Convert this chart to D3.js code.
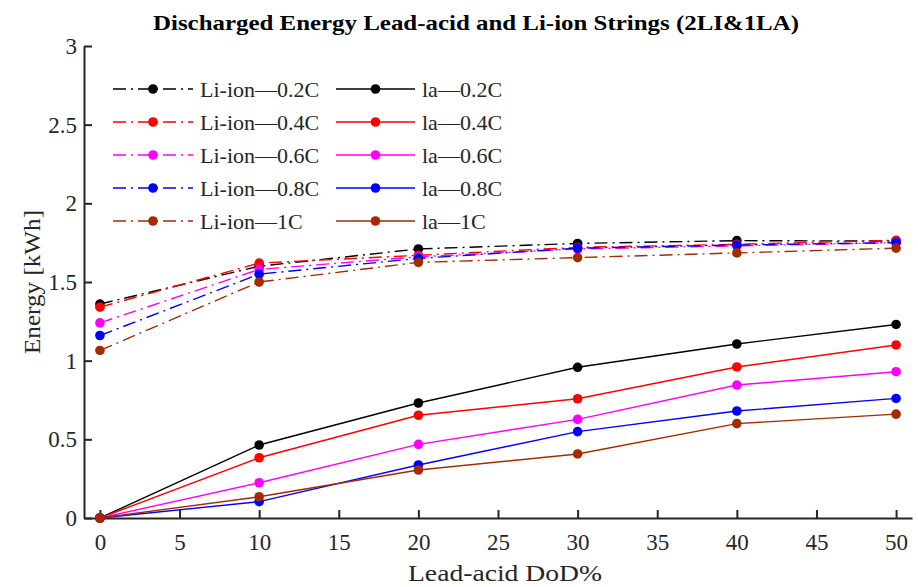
<!DOCTYPE html>
<html>
<head>
<meta charset="utf-8">
<script src="https://cdn.jsdelivr.net/npm/d3@7"></script>
<style>
  body { margin: 0; background: #fff; }
  svg { display: block; font-family: 'Liberation Serif', serif; }
</style>
</head>
<body>
<div id="chart"></div>
<script>
const dod = [0, 10, 20, 30, 40, 50];
const rates = ['0.2C', '0.4C', '0.6C', '0.8C', '1C'];
const colors = ['#000000', '#ff0000', '#ff00ff', '#0000ff', '#a52a00'];

// Li-ion strings (dash-dot)
const liion02 = [1.36, 1.60, 1.71, 1.745, 1.763, 1.76];
const liion04 = [1.34, 1.62, 1.67, 1.72, 1.74, 1.765];
const liion06 = [1.24, 1.58, 1.66, 1.71, 1.73, 1.75];
const liion08 = [1.16, 1.55, 1.65, 1.715, 1.735, 1.75];
const liion1 = [1.065, 1.50, 1.625, 1.655, 1.685, 1.715];

// lead-acid strings (solid)
const la02 = [0, 0.464, 0.731, 0.958, 1.106, 1.23];
const la04 = [0, 0.383, 0.653, 0.758, 0.96, 1.10];
const la06 = [0, 0.224, 0.468, 0.627, 0.845, 0.93];
const la08 = [0, 0.104, 0.337, 0.549, 0.68, 0.76];
const la1 = [0, 0.135, 0.305, 0.407, 0.60, 0.66];

const xTicks = [0, 5, 10, 15, 20, 25, 30, 35, 40, 45, 50];
const yTicks = [0, 0.5, 1, 1.5, 2, 2.5, 3];

const liionSeries = [liion02, liion04, liion06, liion08, liion1];
const laSeries = [la02, la04, la06, la08, la1];

const width = 918;
const height = 587;
const margin = { top: 46, right: 6, bottom: 69, left: 84 };
const axisColor = '#262626';

const svg = d3.select('#chart').append('svg')
  .attr('width', width)
  .attr('height', height);

const x = d3.scaleLinear().domain([-1, 51]).range([margin.left, width - margin.right]);
const y = d3.scaleLinear().domain([0, 3]).range([height - margin.bottom, margin.top]);

// axes
const xAxis = svg.append('g')
  .attr('transform', `translate(0, ${height - margin.bottom})`)
  .call(d3.axisBottom(x).tickValues(xTicks).tickSizeInner(-8).tickSizeOuter(0).tickPadding(16).tickFormat(d3.format('')));

const yAxis = svg.append('g')
  .attr('transform', `translate(${margin.left}, 0)`)
  .call(d3.axisLeft(y).tickValues(yTicks).tickSizeInner(-8).tickSizeOuter(0).tickPadding(7).tickFormat(d3.format('')));

[xAxis, yAxis].forEach(ax => {
  ax.select('.domain').attr('stroke', axisColor).attr('stroke-width', 2);
  ax.selectAll('.tick line').attr('stroke', axisColor).attr('stroke-width', 2);
  ax.selectAll('.tick text')
    .attr('fill', axisColor)
    .attr('font-family', 'Liberation Serif, serif')
    .attr('font-size', 23);
});

// lines
const line = d3.line()
  .x((d, i) => x(dod[i]))
  .y(d => y(d));

const dashDot = '13,5,2,5';

function drawSeries (values, color, dashed) {
  const g = svg.append('g');
  g.append('path')
    .datum(values)
    .attr('d', line)
    .attr('fill', 'none')
    .attr('stroke', color)
    .attr('stroke-width', 1.4)
    .attr('stroke-dasharray', dashed ? dashDot : null);
  g.selectAll('circle')
    .data(values)
    .join('circle')
    .attr('cx', (d, i) => x(dod[i]))
    .attr('cy', d => y(d))
    .attr('r', 4.8)
    .attr('fill', color);
}

liionSeries.forEach((s, i) => drawSeries(s, colors[i], true));
laSeries.forEach((s, i) => drawSeries(s, colors[i], false));

// legend
const legend = svg.append('g').attr('font-family', 'Liberation Serif, serif').attr('font-size', 22);
const rowY = d3.scaleLinear().domain([0, 4]).range([89, 221]);
const columns = [
  { x0: 113, x1: 193, tx: 200, prefix: 'Li-ion', dashed: true, len: 120 },
  { x0: 336, x1: 415, tx: 422, prefix: 'la', dashed: false, len: 80 }
];
columns.forEach(col => {
  rates.forEach((r, i) => {
    const yy = rowY(i);
    legend.append('line')
      .attr('x1', col.x0).attr('x2', col.x1)
      .attr('y1', yy).attr('y2', yy)
      .attr('stroke', colors[i])
      .attr('stroke-width', 1.4)
      .attr('stroke-dasharray', col.dashed ? dashDot : null);
    legend.append('circle')
      .attr('cx', (col.x0 + col.x1) / 2)
      .attr('cy', yy)
      .attr('r', 4.8)
      .attr('fill', colors[i]);
    legend.append('text')
      .attr('x', col.tx)
      .attr('y', yy)
      .attr('dy', '0.35em')
      .attr('fill', axisColor)
      .text(`${col.prefix}\u2014${r}`);
  });
});

// titles
svg.append('text')
  .attr('x', 476)
  .attr('y', 30)
  .attr('text-anchor', 'middle')
  .attr('font-weight', 'bold')
  .attr('font-size', 21)
  .attr('textLength', 646)
  .attr('lengthAdjust', 'spacingAndGlyphs')
  .attr('fill', '#000')
  .text('Discharged Energy Lead-acid and Li-ion Strings (2LI&1LA)');

svg.append('text')
  .attr('x', 505)
  .attr('y', 581)
  .attr('text-anchor', 'middle')
  .attr('font-size', 23)
  .attr('textLength', 194)
  .attr('lengthAdjust', 'spacingAndGlyphs')
  .attr('fill', axisColor)
  .text('Lead-acid DoD%');

svg.append('text')
  .attr('transform', `translate(40, ${y(1.5)}) rotate(-90)`)
  .attr('text-anchor', 'middle')
  .attr('font-size', 23)
  .attr('textLength', 144)
  .attr('lengthAdjust', 'spacingAndGlyphs')
  .attr('fill', axisColor)
  .text('Energy [kWh]');
</script>
</body>
</html>
